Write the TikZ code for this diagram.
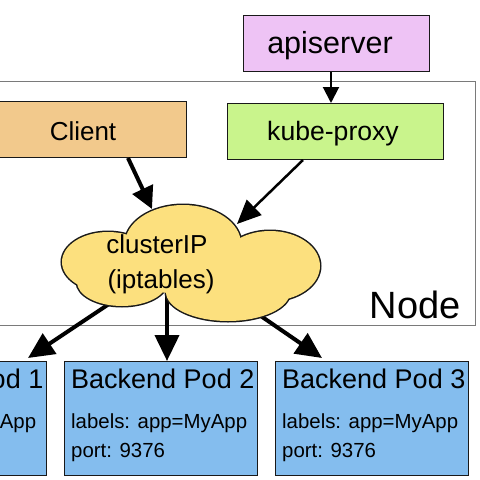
\documentclass[tikz,border=0pt]{standalone}
\usepackage{fontspec}
\setmainfont{Liberation Sans}
\usetikzlibrary{arrows.meta,calc}
\definecolor{apic}{HTML}{EEC3F5}
\definecolor{clientc}{HTML}{F2C98C}
\definecolor{proxyc}{HTML}{C9F48C}
\definecolor{cloudc}{HTML}{FCE07E}
\definecolor{podc}{HTML}{84BDEE}
\definecolor{nodeborder}{HTML}{7A7A7A}
\tikzset{
  boxs/.style={draw=black!90, line width=1.4pt, inner sep=0pt, anchor=north west},
  bigtxt/.style={font=\fontsize{26}{30}\selectfont},
  podbox/.style={boxs, fill=podc, minimum width=193pt, minimum height=114pt},
  podtitle/.style={anchor=base west, font=\fontsize{27}{30}\selectfont, inner sep=0pt},
  podlbl/.style={anchor=base west, font=\fontsize{20.4}{24}\selectfont, inner sep=0pt},
  arr/.style={line width=4pt, -{Triangle[length=22pt,width=22pt]}},
  arrp/.style={line width=4pt, -{Triangle[length=26pt,width=24pt]}},
  arrm/.style={line width=2.5pt, -{Triangle[length=24pt,width=21pt]}},
  arrs/.style={line width=2pt, -{Triangle[length=16pt,width=16pt]}},
  lobe/.style={draw=black!90, line width=3pt},
  lobefill/.style={fill=cloudc},
}
\begin{document}
\begin{tikzpicture}[x=1pt,y=-1pt]
\useasboundingbox (0,0) rectangle (480,480);
\clip (0,0) rectangle (480,480);
\fill[white] (0,0) rectangle (480,480);
% Node frame
\node[draw=nodeborder, line width=1pt, anchor=north west, minimum width=485pt, minimum height=244pt, inner sep=0pt] (frame) at (-10,81) {};
\node[anchor=base east, font=\fontsize{38}{40}\selectfont, inner sep=0pt] (nodelbl) at (461,318) {Node};
% apiserver
\node[boxs, fill=apic, minimum width=186pt, minimum height=56pt] (api) at (243,15) {};
\node[font=\fontsize{30.5}{34}\selectfont, anchor=base, inner sep=0pt] (apit) at (330,53) {apiserver};
% Client
\node[boxs, fill=clientc, minimum width=200pt, minimum height=56pt] (client) at (-14,101) {};
\node[bigtxt, anchor=base, inner sep=0pt] (clientt) at (83,140) {Client};
% kube-proxy
\node[boxs, fill=proxyc, minimum width=216pt, minimum height=56pt] (proxy) at (227,103) {};
\node[font=\fontsize{26.6}{30}\selectfont, anchor=base, inner sep=0pt] (proxyt) at (333,140) {kube-proxy};
% pods
\node[podbox] (pod1) at (-147,361) {};
\node[podbox] (pod2) at (64,361) {};
\node[podbox] (pod3) at (275,361) {};
\foreach \p/\n in {pod1/1,pod2/2,pod3/3}{
  \node[podtitle] (\p t) at ($(\p.north west)+(7,27)$) {Backend Pod \n};
  \node[podlbl] (\p l) at ($(\p.north west)+(7,67)$) {labels: app=MyApp};
  \node[podlbl] (\p p) at ($(\p.north west)+(7,96)$) {port: 9376};
}
% connector coordinates
\coordinate (cl) at (128,158);
\coordinate (cltip) at (152,209);
\coordinate (pr) at (303,160);
\coordinate (prtip) at (237,224);
\coordinate (ax) at (331,0);
\coordinate (c1) at (112,302);
\coordinate (t1) at (28,358);
\coordinate (c2) at (167,290);
\coordinate (c3) at (255,312);
\coordinate (t3) at (322,358);
% arrows
\draw[arrs] (api.south -| ax) -- (proxy.north -| ax);
\draw[arr] (cl) -- (cltip);
\draw[arrm] (pr) -- (prtip);
\draw[arrp] (c1) -- (t1);
\draw[arrp] (c2) -- (pod2.north -| c2);
\draw[arrp] (c3) -- (t3);
% cloud
\path[lobe] (108,262) ellipse [x radius=46, y radius=30];
\path[lobe] (183,244) ellipse [x radius=58, y radius=39];
\path[lobe] (270,266) ellipse [x radius=50, y radius=35];
\path[lobe] (122,282) ellipse [x radius=45, y radius=24];
\path[lobe] (228,292) ellipse [x radius=62, y radius=29];
\fill[lobefill] (108,262) ellipse [x radius=46, y radius=30];
\fill[lobefill] (183,244) ellipse [x radius=58, y radius=39];
\fill[lobefill] (270,266) ellipse [x radius=50, y radius=35];
\fill[lobefill] (122,282) ellipse [x radius=45, y radius=24];
\fill[lobefill] (228,292) ellipse [x radius=62, y radius=29];
\fill[lobefill] (190,264) ellipse [x radius=85, y radius=30];
\node[bigtxt, anchor=base, inner sep=0pt] (cloud) at (157,253) {clusterIP};
\node[bigtxt, anchor=base, inner sep=0pt] (cloud2) at (161,288) {(iptables)};
\end{tikzpicture}
\end{document}
